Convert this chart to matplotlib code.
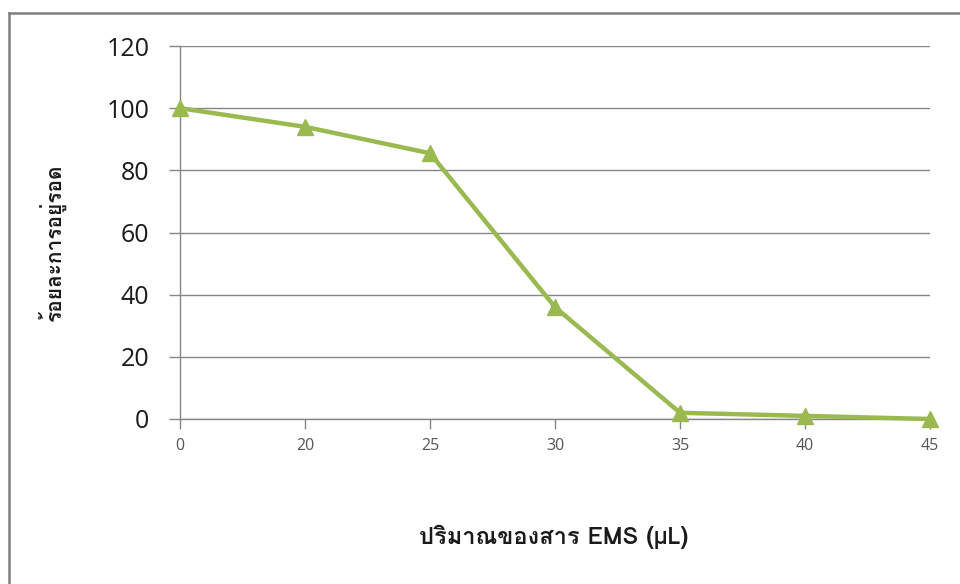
import matplotlib
matplotlib.use("Agg")
import matplotlib.pyplot as plt
from matplotlib import font_manager
from matplotlib.lines import Line2D

# EMS dose categories (µL) and survival percentage
doses = ["0", "20", "25", "30", "35", "40", "45"]
survival = [100, 94, 85.5, 36, 2, 1, 0]
y_ticks = [0, 20, 40, 60, 80, 100, 120]

y_label = "ร้อยละการอยู่รอด"
x_label_thai = "ปริมาณของสาร "
x_label_latin = "EMS (µL)"


def thai_family():
    """Return the name of an installed font that covers Thai script."""
    try:
        from fontTools.ttLib import TTFont
    except Exception:
        return None
    for entry in font_manager.fontManager.ttflist:
        try:
            tt = TTFont(entry.fname, fontNumber=0, lazy=True)
            cmap = tt.getBestCmap()
            if cmap and 0x0E1B in cmap and 0x0E23 in cmap:
                return entry.name
        except Exception:
            continue
    return None


thai = thai_family()
families = ([thai] if thai else []) + ["Open Sans", "DejaVu Sans"]
plt.rcParams["font.family"] = families

green = "#9AB94E"
grid_gray = "#868686"

fig = plt.figure(figsize=(9.6, 5.84), dpi=100)
ax = fig.add_axes([180 / 960, 165 / 584, 750 / 960, 373 / 584])

x = list(range(len(doses)))
ax.plot(x, survival, color=green, lw=3.2, marker="^", markersize=11,
        markerfacecolor=green, markeredgecolor=green, clip_on=False, zorder=3)

ax.set_xlim(0, len(doses) - 1)
ax.set_ylim(0, 120)
ax.set_xticks(x)
ax.set_xticklabels(doses)
ax.set_yticks(y_ticks)
ax.set_yticklabels([str(v) for v in y_ticks])

ax.yaxis.grid(True, color=grid_gray, lw=1)
ax.set_axisbelow(True)
for side in ("top", "right"):
    ax.spines[side].set_visible(False)
for side in ("left", "bottom"):
    ax.spines[side].set_color(grid_gray)
    ax.spines[side].set_linewidth(1)

ax.tick_params(axis="y", length=8, width=1, color=grid_gray, pad=14,
               labelsize=18, labelcolor="#1a1a1a")
ax.tick_params(axis="x", length=7, width=1, color=grid_gray, pad=7,
               labelsize=11.5, labelcolor="#555555")
for lab in ax.get_yticklabels() + ax.get_xticklabels():
    lab.set_family(["Open Sans", "DejaVu Sans"])

fig.text(52 / 960, 1 - 242 / 584, y_label, rotation=90, ha="center",
         va="center", fontsize=15, fontweight="bold", color="#1a1a1a")
fig.text(554 / 960, 1 - 537 / 584, x_label_thai + x_label_latin,
         ha="center", va="center", fontsize=17, fontweight="bold",
         color="#1a1a1a")

# outer chart frame
fig.add_artist(Line2D([8.5 / 960, 8.5 / 960], [0, 1 - 13 / 584],
                      color="#808080", lw=1.8, transform=fig.transFigure))
fig.add_artist(Line2D([8.5 / 960, 1], [1 - 13 / 584, 1 - 13 / 584],
                      color="#808080", lw=1.8, transform=fig.transFigure))

fig.savefig("out.png", dpi=100)
